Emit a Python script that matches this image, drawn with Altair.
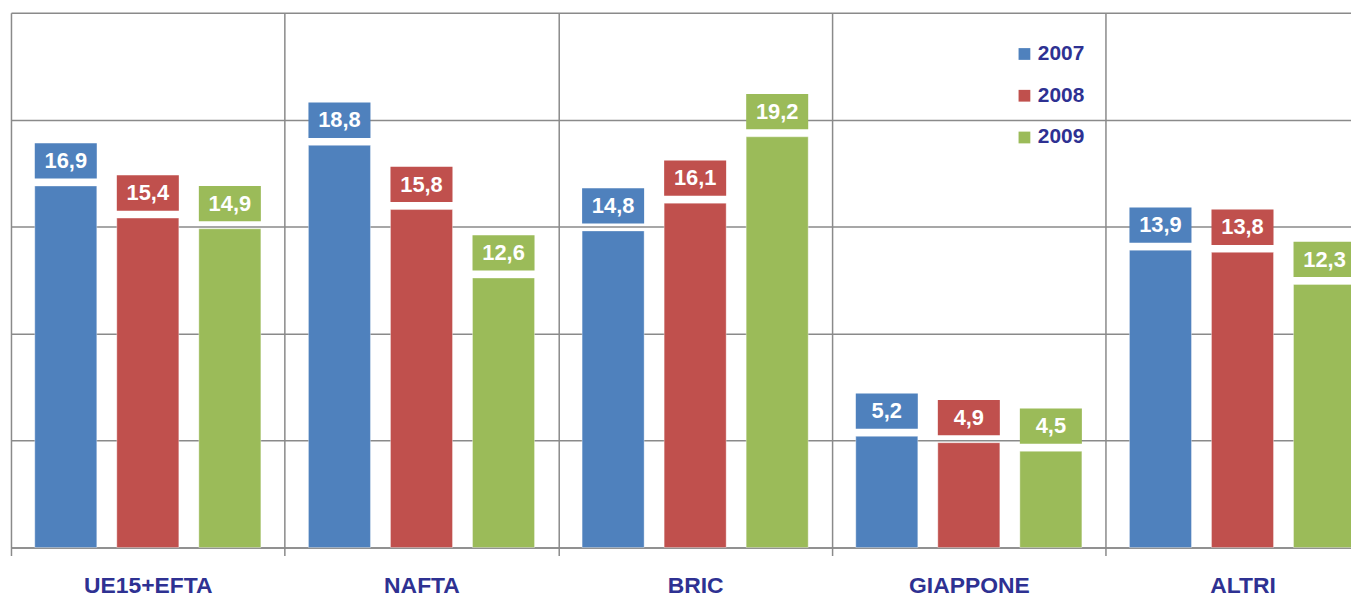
import altair as alt
import pandas as pd

groups = ["UE15+EFTA", "NAFTA", "BRIC", "GIAPPONE", "ALTRI"]
years = ["2007", "2008", "2009"]
v2007 = [16.9, 18.8, 14.8, 5.2, 13.9]
v2008 = [15.4, 15.8, 16.1, 4.9, 13.8]
v2009 = [14.9, 12.6, 19.2, 4.5, 12.3]
colors = ["#4F81BD", "#C0504D", "#9BBB59"]
y_ticks = [0, 5, 10, 15, 20, 25]

rows = []
for yr, vals in zip(years, [v2007, v2008, v2009]):
    for g, v in zip(groups, vals):
        rows.append({"group": g, "year": yr, "value": v,
                     "label": f"{v:.1f}".replace(".", ",")})
df = pd.DataFrame(rows)

GROUP_W = 275.3
W = 1348
H = 538
GRID = "#8A8A8A"
TXT = "#2E3192"

x = alt.X("group:N", sort=groups,
          scale=alt.Scale(range=[0, GROUP_W * 5], paddingInner=0, paddingOuter=0,
                          round=False),
          axis=alt.Axis(title=None, labelAngle=0, grid=True, tickBand="extent",
                        ticks=True, tickSize=8, domain=True, labelPadding=19,
                        labelFontSize=23, labelFontWeight="bold", labelColor=TXT,
                        gridColor=GRID, gridWidth=1.5, tickColor=GRID, tickWidth=1.5,
                        domainColor=GRID, domainWidth=1.5))
xo = alt.XOffset("year:N", sort=years,
                 scale=alt.Scale(paddingInner=0.244, paddingOuter=0.29, round=False))
y = alt.Y("value:Q", scale=alt.Scale(domain=[0, 25], nice=False),
          axis=alt.Axis(values=y_ticks, labels=False, ticks=False, domain=False,
                        title=None, grid=True, gridColor=GRID, gridWidth=1.5))
color = alt.Color("year:N", sort=years,
                  scale=alt.Scale(domain=years, range=colors),
                  legend=alt.Legend(title=None, orient="none", legendX=1009, legendY=31,
                                    symbolType="square", symbolSize=140,
                                    symbolStrokeWidth=0, labelFontSize=21,
                                    labelFontWeight="bold", labelColor=TXT,
                                    labelOffset=3, rowPadding=20, padding=0))

base = alt.Chart(df)

bars = base.mark_bar(stroke="white", strokeWidth=0.6, strokeOpacity=0.6).encode(
    x=x, xOffset=xo, y=y, color=color)

boxes = base.mark_bar(yOffset=-7.5, y2Offset=-43).encode(
    x=x, xOffset=xo, y=y, y2=alt.Y2("value:Q"), color=alt.Color("year:N", sort=years,
        scale=alt.Scale(domain=years, range=colors), legend=None))

labels = base.mark_text(yOffset=-25, baseline="middle", align="center",
                        fontSize=22, fontWeight="bold", color="white").encode(
    x=x, xOffset=xo, y=y, text="label:N")

chart = alt.layer(bars, boxes, labels).properties(
    width=W, height=H,
    autosize=alt.AutoSizeParams(type="none"),
    padding={"left": 3, "top": 3, "right": 0, "bottom": 51},
).configure(font="Liberation Sans").configure_view(stroke="transparent")

chart.save("out.html", embed_options={"renderer": "svg", "actions": False})
